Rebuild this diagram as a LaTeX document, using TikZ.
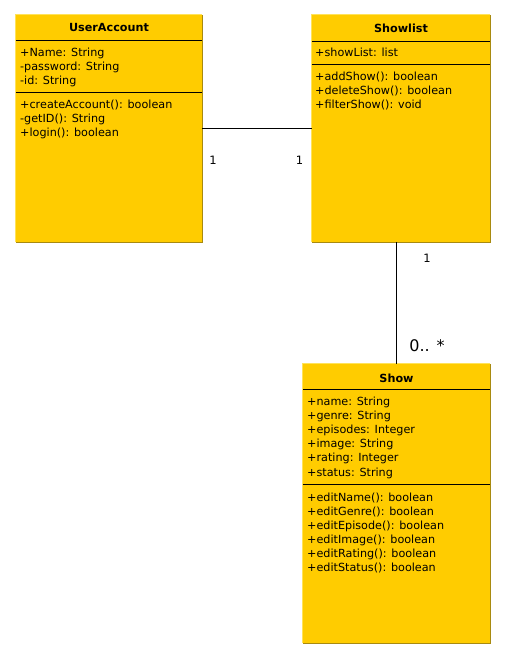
\documentclass[tikz,border=0pt]{standalone}
\usepackage{fontspec}
\setmainfont{DejaVu Sans}
\definecolor{classfill}{HTML}{FFCC00}
\definecolor{classedge}{HTML}{A88A10}
\definecolor{classlight}{HTML}{FFE35A}
\begin{document}
\begin{tikzpicture}[x=1pt,y=-1pt,
  classbox/.style={fill=classfill,inner sep=0pt},
  darkedge/.style={draw=classedge,line width=0.8pt},
  lightedge/.style={draw=classlight,line width=0.8pt},
  sep/.style={draw=black,line width=0.7pt},
  ctitle/.style={font=\fontsize{11.2}{14}\selectfont\bfseries,inner sep=0pt},
  member/.style={anchor=base west,font=\fontsize{11.2}{14}\selectfont,inner sep=0pt},
  mult/.style={font=\fontsize{11.5}{14}\selectfont,inner sep=0pt},
  bigmult/.style={font=\fontsize{16}{18}\selectfont,inner sep=0pt},
  conn/.style={draw=black,line width=0.7pt}]
\useasboundingbox[fill=white] (0,0) rectangle (506,660);

% class boxes
\node[classbox,minimum width=186pt,minimum height=227pt] (ua) at (109,128.5) {};
\node[classbox,minimum width=178pt,minimum height=227pt] (sl) at (401,128.5) {};
\node[classbox,minimum width=187pt,minimum height=279pt] (sh) at (396.5,503.5) {};
\foreach \b in {ua,sl,sh}{
  \draw[lightedge] (\b.south west) -- (\b.north west) -- (\b.north east);
  \draw[darkedge] (\b.north east) -- (\b.south east) -- (\b.south west);
}

% separators
\draw[sep] (ua.west |- 0,40.5) -- (ua.east |- 0,40.5);
\draw[sep] (ua.west |- 0,92) -- (ua.east |- 0,92);
\draw[sep] (sl.west |- 0,41) -- (sl.east |- 0,41);
\draw[sep] (sl.west |- 0,64) -- (sl.east |- 0,64);
\draw[sep] (sh.west |- 0,389) -- (sh.east |- 0,389);
\draw[sep] (sh.west |- 0,484) -- (sh.east |- 0,484);

% titles
\node[ctitle] (uat) at (109,28) {UserAccount};
\node[ctitle] (slt) at (401,28) {Showlist};
\node[ctitle] (sht) at (396.5,378) {Show};

% UserAccount members
\foreach \t [count=\i] in {+Name: String,-password: String,-id: String}
  \node[member] (uaa\i) at (20,56.5+14*\i-14) {\t};
\foreach \t [count=\i] in {+createAccount(): boolean,-getID(): String,+login(): boolean}
  \node[member] (uam\i) at (20,109+14*\i-14) {\t};

% Showlist members
\node[member] (sla1) at (315,56.5) {+showList: list};
\foreach \t [count=\i] in {+addShow(): boolean,+deleteShow(): boolean,+filterShow(): void}
  \node[member] (slm\i) at (315,80.5+14*\i-14) {\t};

% Show members
\foreach \t [count=\i] in {+name: String,+genre: String,+episodes: Integer,+image: String,+rating: Integer,+status: String}
  \node[member] (sha\i) at (307,405.5+14.1*\i-14.1) {\t};
\foreach \t [count=\i] in {+editName(): boolean,+editGenre(): boolean,+editEpisode(): boolean,+editImage(): boolean,+editRating(): boolean,+editStatus(): boolean}
  \node[member] (shm\i) at (307,501+14*\i-14) {\t};

% connectors
\draw[conn] (ua.east) -- (sl.west);
\draw[conn] (sh.north) -- (sh.north |- sl.south);

% multiplicities
\node[mult] (m1) at (213,160) {1};
\node[mult] (m2) at (299.5,160) {1};
\node[mult] (m3) at (427,258) {1};
\node[bigmult] (m4) at (427,346) {0.. *};
\end{tikzpicture}
\end{document}
